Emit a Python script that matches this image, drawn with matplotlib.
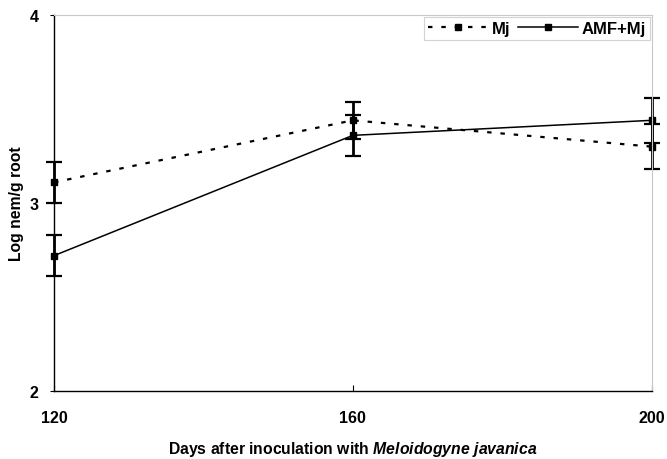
import numpy as np
import matplotlib
matplotlib.use('Agg')
import matplotlib.pyplot as plt
from matplotlib.lines import Line2D

plt.rcParams['font.family'] = ['Liberation Sans', 'DejaVu Sans']
plt.rcParams['font.weight'] = 'bold'
plt.rcParams['mathtext.fontset'] = 'custom'
plt.rcParams['mathtext.bfit'] = 'Liberation Sans:italic:bold'
plt.rcParams['mathtext.it'] = 'Liberation Sans:italic:bold'
plt.rcParams['mathtext.bf'] = 'Liberation Sans:bold'

days = [120, 160, 200]
mj = [3.11, 3.44, 3.30]
mj_err = [0.11, 0.10, 0.12]
amf_mj = [2.72, 3.36, 3.44]
amf_err = [0.11, 0.11, 0.12]

mj_style = dict(color='black', linestyle=(0, (2, 4)), linewidth=1.6, marker='s', markersize=5)
amf_style = dict(color='black', linestyle='-', linewidth=1.1, marker='s', markersize=5)

fig = plt.figure(figsize=(6.67, 4.6), dpi=100)
ax = fig.add_axes([0.081, 0.148, 0.896, 0.817])

for y, err, style in [(mj, mj_err, mj_style), (amf_mj, amf_err, amf_style)]:
    line = ax.errorbar(days, y, yerr=err, capsize=5.5, elinewidth=2.0, capthick=1.6, **style)
    for part in line.lines:
        if part is None:
            continue
        for artist in (part if isinstance(part, tuple) else [part]):
            artist.set_clip_on(False)

ax.set_xlim(120, 200)
ax.set_ylim(2, 4)
ax.set_xticks([120, 160, 200])
ax.set_yticks([2, 3, 4])
ax.tick_params(axis='x', direction='in', length=4, pad=14, labelsize=11.5)
ax.tick_params(axis='y', direction='out', length=3, pad=8, labelsize=11.5)

for side in ['top', 'right']:
    ax.spines[side].set_color('#c8c8c8')
    ax.spines[side].set_linewidth(0.8)
for side in ['left', 'bottom']:
    ax.spines[side].set_linewidth(1.0)

ax.set_xlabel(r'Days after inoculation with $\mathbfit{Meloidogyne\ javanica}$',
              fontsize=11.3, fontweight='bold', labelpad=10)
ax.set_ylabel('Log nem/g root', fontsize=11.3, fontweight='bold', labelpad=4)

handles = [Line2D([], [], **mj_style), Line2D([], [], **amf_style)]
leg = ax.legend(handles, ['Mj', 'AMF+Mj'], loc='upper right', ncol=2, fontsize=12,
                frameon=True, fancybox=False, edgecolor='#c8c8c8', handlelength=3.6,
                columnspacing=0.5, handletextpad=0.2, borderaxespad=0.1, borderpad=0.25)
leg.get_frame().set_linewidth(0.8)

plt.savefig('out.png', dpi=100)
